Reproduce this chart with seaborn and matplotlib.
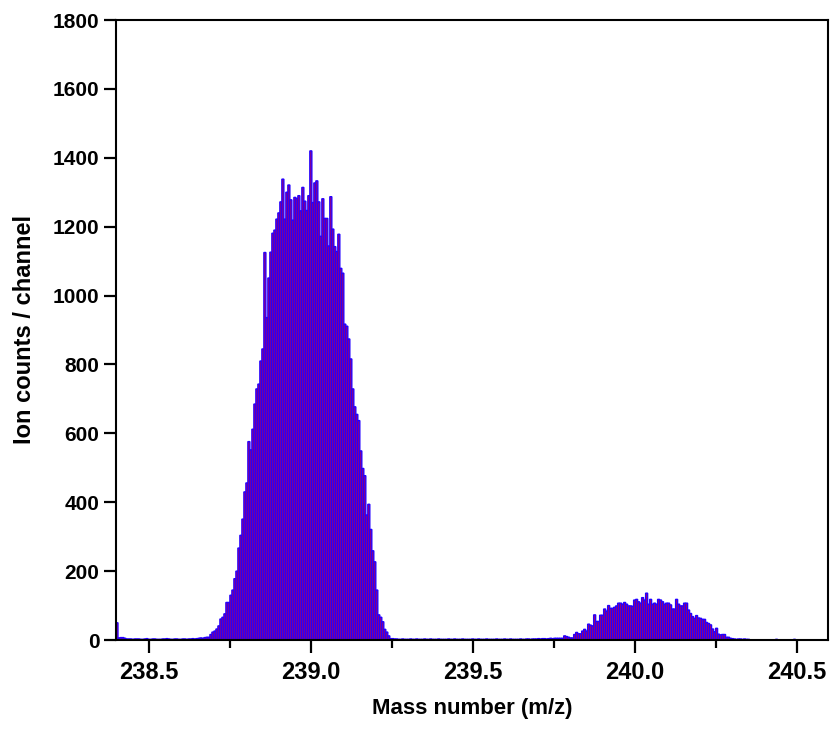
import numpy as np
import pandas as pd
import seaborn as sns
import matplotlib.pyplot as plt
from matplotlib.ticker import FormatStrFormatter, MultipleLocator

# Channel layout
first_channel = 238.401   # m/z at the centre of the first channel
channel_width = 0.00617   # m/z per channel

# Ion counts per channel, left to right
left_tail = [50, 6, 7, 7, 5, 3, 3, 3, 2, 3,
             3, 3, 2, 2, 3, 4, 2, 2, 3, 3,
             2, 2, 2, 3, 3, 4, 3, 2, 2, 3,
             3, 2, 2, 3, 3, 2, 3, 3, 4, 3,
             4, 5, 6, 5, 7]

peak_239 = [8, 8, 16, 23, 26, 32, 41, 61, 66, 76,
            109, 109, 130, 145, 178, 200, 267, 304, 351, 430,
            456, 576, 552, 612, 685, 729, 743, 810, 845, 1125,
            936, 1051,
            1126, 1181, 1190, 1222, 1240, 1272, 1338, 1222, 1300, 1321,
            1278, 1219, 1285, 1282, 1290, 1246, 1314, 1274, 1247, 1290,
            1420, 1270, 1327, 1333, 1272, 1172, 1281, 1224, 1224, 1144,
            1287, 1193,
            1142, 1128, 1178, 1079, 1065, 917, 911, 874, 816, 729,
            677, 655, 637, 549, 498, 477, 363, 394, 321, 259,
            227, 145, 73, 66, 53, 31, 23, 12, 4, 4]

valley = [3, 3, 2, 2, 3, 2, 2, 2, 3, 2,
          2, 3, 2, 2, 2, 3, 2, 2, 3, 2,
          2, 2, 3, 2, 2, 2, 2, 3, 2, 2,
          3, 2, 2, 2, 3, 2, 2, 2, 2, 3,
          2, 2, 3, 2, 2, 2, 3, 2, 2, 2,
          2, 3, 2, 2, 2, 3, 2, 2, 3, 2,
          2, 2, 2, 3, 2, 2, 3, 3, 2, 3,
          3, 3, 4, 3, 4, 4, 3, 4, 5, 4,
          5]

peak_240 = [5, 5, 5, 5, 12, 10, 8, 6, 6, 16,
            22, 18, 18, 26, 31, 26, 46, 43, 41, 73,
            54, 54, 72, 72, 90, 84, 100, 92, 92, 95,
            99, 107, 107, 104, 109, 104, 99, 99, 98, 116,
            118, 111, 107, 123, 116, 136, 104,
            118, 104, 107, 104, 118, 116, 111, 104, 107, 107,
            102, 90, 90, 118, 104, 99, 99, 107, 107, 87,
            77, 68, 63, 71, 64, 63, 60, 60, 51, 48,
            44, 32, 24, 34, 17, 15, 16, 16, 8, 8,
            5, 4]

right_tail = [3, 2, 3, 3, 2, 3, 2, 2, 0, 0,
              0, 0, 0, 0, 0, 0, 0, 0, 0, 0,
              0, 2, 0, 0, 0, 0, 0, 0, 0, 0,
              2, 0, 0, 0, 0, 0, 0, 0, 0, 0,
              0, 0, 0, 0, 0, 0, 0]

counts = left_tail + peak_239 + valley + peak_240 + right_tail
mass = first_channel + channel_width * np.arange(len(counts))
df = pd.DataFrame({'mass': mass, 'counts': counts})

sns.set_style('ticks')
plt.rcParams['font.family'] = ['Liberation Sans', 'DejaVu Sans']
plt.rcParams['text.color'] = 'black'
plt.rcParams['axes.labelcolor'] = 'black'
plt.rcParams['xtick.color'] = 'black'
plt.rcParams['ytick.color'] = 'black'

fig = plt.figure(figsize=(8.3, 7.31), dpi=100)
ax = fig.add_axes([116 / 830, 1 - 640 / 731, 712 / 830, 620 / 731])

# one bin per channel: red fill, blue outline (no pixel snapping so they blend)
edges = list(np.append(mass - channel_width / 2, mass[-1] + channel_width / 2))
sns.histplot(data=df, x='mass', weights='counts', bins=edges, ax=ax,
             color='#e0002a', edgecolor='#2200ff', linewidth=1.0, alpha=1,
             snap=False)

ax.set_xlim(238.398, 240.596)
ax.set_ylim(0, 1800)
ax.xaxis.set_major_locator(MultipleLocator(0.5))
ax.xaxis.set_minor_locator(MultipleLocator(0.25))
ax.xaxis.set_major_formatter(FormatStrFormatter('%.1f'))
ax.yaxis.set_major_locator(MultipleLocator(200))

for side in ['left', 'bottom', 'top', 'right']:
    ax.spines[side].set_visible(True)
    ax.spines[side].set_linewidth(1.5)
    ax.spines[side].set_color('black')

ax.tick_params(axis='both', which='major', direction='out', length=9, width=1.6, color='black')
ax.tick_params(axis='x', which='minor', direction='out', length=6, width=1.6, color='black')
ax.tick_params(axis='x', labelsize=17, pad=6, labelcolor='black')
ax.tick_params(axis='y', labelsize=15, pad=3, labelcolor='black')
ax.tick_params(top=False, right=False)
for lab in ax.get_xticklabels() + ax.get_yticklabels():
    lab.set_fontweight('bold')

ax.set_xlabel('Mass number (m/z)', fontsize=16, fontweight='bold', labelpad=10, color='black')
ax.set_ylabel('Ion counts / channel', fontsize=17, fontweight='bold', labelpad=12, color='black')

plt.savefig('out.png', dpi=100)
plt.close()
